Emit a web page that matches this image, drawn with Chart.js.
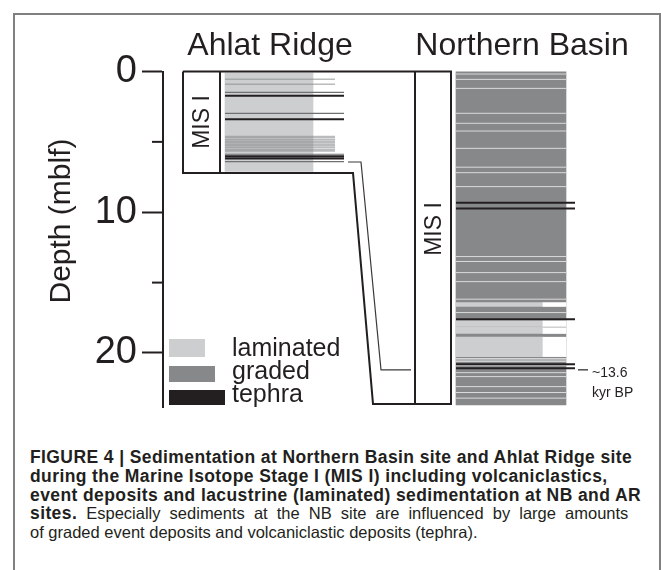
<!DOCTYPE html>
<html>
<head>
<meta charset="utf-8">
<script src="https://cdn.jsdelivr.net/npm/chart.js@4.4.0/dist/chart.umd.min.js"></script>
<style>
  html, body { margin: 0; padding: 0; background: #fff; }
  body { width: 661px; height: 570px; position: relative; overflow: hidden;
         font-family: "Liberation Sans", Arial, sans-serif; color: #231f20; }
  #frame { position: absolute; left: 13px; top: 13px; width: 648px; height: 570px;
           border: 2px solid #808080; border-bottom: none; box-sizing: border-box; }
  #chartBox { position: absolute; left: 0; top: 0; width: 661px; height: 440px; }
  #caption { position: absolute; left: 30px; top: 448px; line-height: 18.8px; white-space: nowrap; }
  #caption div { height: 18.8px; }
  #caption b { font-size: 17.5px; letter-spacing: 0.4px; }
  #caption span { font-size: 16.5px; }
  #caption .wide span { word-spacing: 4.5px; }
</style>
</head>
<body>
<div id="frame"></div>
<div id="chartBox"><canvas id="chartCores" width="661" height="440"></canvas></div>
<div id="caption">
  <div><b>FIGURE 4 | Sedimentation at Northern Basin site and Ahlat Ridge site</b></div>
  <div><b>during the Marine Isotope Stage I (MIS I) including volcaniclastics,</b></div>
  <div><b>event deposits and lacustrine (laminated) sedimentation at NB and AR</b></div>
  <div class="wide"><b>sites.</b><span> Especially sediments at the NB site are influenced by large amounts</span></div>
  <div><span>of graded event deposits and volcaniclastic deposits (tephra).</span></div>
</div>

<script>
// depths in m below lake floor (mblf)
const sites = ['Ahlat Ridge', 'Northern Basin'];
const depthTicks = [0, 5, 10, 15, 20];
const depthLabels = ['0', '', '10', '', '20'];
const stageLabel = 'MIS I';
const arBase = 7.21;
const nbBase = 23.62;
const arLaminated = [[0.1, 7.1]];
const arFaint = [0.55, 0.91, 4.62, 4.72, 4.85, 4.97, 5.08, 5.2, 5.3, 5.42, 5.55, 5.65];
const arThin = [1.48, 2.97, 5.88, 6.40];
const arTephra = [1.72, 3.40, 6.02, 6.19];
const nbGraded = [[0.03, 23.69]];
const nbLaminated = [[16.42, 16.70], [17.70, 18.12], [18.22, 18.62], [18.88, 20.26]];
const nbLight = [0.18, 0.56, 1.2, 2.97, 3.68, 4.23, 5.46, 6.8, 7.19, 8.18, 13.15, 13.5, 14.29,
                 14.93, 16.18, 17.13, 18.17, 20.4, 20.5, 20.6, 20.9, 21.4, 21.68, 22.39, 22.81, 23.21];
const nbTephra = [9.32, 9.74, 17.6, 20.8, 21.08];
const tieDepths = [6.43, 21.2];   // AR tephra -> NB tephra
const tieAge = ['~13.6', 'kyr BP'];
const legendNames = ['laminated', 'graded', 'tephra'];

const INK = '#231f20';
const LAM = '#cdced0';
const GRA = '#87888a';

// horizontal layout of the schematic (x units = canvas px)
const COL = {
  arMisL: 183, arMisR: 220, arLamL: 225, arLamR: 313, arFaintR: 335, arLineR: 344,
  arStep: 353, nbStep: 373, nbMisL: 415, nbMisR: 451,
  nbL: 456, nbLamR: 543, nbR: 566, nbTephraR: 575,
  tieA: 348, tieB: 361, tieC: 381, tieD: 411
};

function hLines(depths, x0, x1) {
  const pts = [];
  depths.forEach(d => { pts.push({x: x0, y: d}, {x: x1, y: d}, {x: x1, y: null}); });
  return pts;
}
function block(ranges, x0, x1) {
  return ranges.map(r => ({x: (x0 + x1) / 2, y: r}));
}
const lineDs = (data, color, width, order) => ({
  type: 'line', data, borderColor: color, borderWidth: width, pointRadius: 0,
  fill: false, tension: 0, spanGaps: false, clip: false, order
});
const barDs = (data, color, x0, x1, order) => ({
  type: 'bar', data, backgroundColor: color, borderWidth: 0,
  barThickness: x1 - x0, grouped: false, clip: false, order
});

const decor = {
  id: 'decor',
  afterDraw(chart) {
    const {ctx, chartArea, scales: {y}} = chart;
    ctx.save();
    ctx.fillStyle = INK;
    ctx.strokeStyle = INK;

    // minor depth ticks
    ctx.lineWidth = 2;
    depthTicks.forEach((v, i) => {
      if (depthLabels[i]) return;
      const py = y.getPixelForValue(v);
      ctx.beginPath();
      ctx.moveTo(chartArea.left - 11, py);
      ctx.lineTo(chartArea.left, py);
      ctx.stroke();
    });

    // site headings
    ctx.font = '32px "Liberation Sans"';
    ctx.textAlign = 'center';
    ctx.textBaseline = 'alphabetic';
    ctx.fillText(sites[0], 270, 55);
    ctx.fillText(sites[1], 522, 55);

    // axis title
    ctx.save();
    ctx.translate(70, 221);
    ctx.rotate(-Math.PI / 2);
    ctx.font = '30px "Liberation Sans"';
    ctx.fillText('Depth (mblf)', 0, 0);
    ctx.restore();

    // stage labels
    ctx.font = '23px "Liberation Sans"';
    ctx.textBaseline = 'middle';
    [[202, 122], [434, 229]].forEach(([px, py]) => {
      ctx.save();
      ctx.translate(px, py);
      ctx.rotate(-Math.PI / 2);
      ctx.fillText(stageLabel, 0, 1);
      ctx.restore();
    });

    // legend
    const sw = [[LAM, 339, 18, 36], [GRA, 366, 16, 46], [INK, 390, 15, 56]];
    sw.forEach(([c, top, h, w]) => {
      ctx.fillStyle = c;
      ctx.fillRect(169, top, w, h);
    });
    ctx.fillStyle = INK;
    ctx.font = '25px "Liberation Sans"';
    ctx.textAlign = 'left';
    ctx.textBaseline = 'alphabetic';
    [356, 379, 402].forEach((b, i) => ctx.fillText(legendNames[i], 232, b));

    // age annotation at the tie point
    const ty = y.getPixelForValue(tieDepths[1]);
    ctx.lineWidth = 1.2;
    ctx.beginPath();
    ctx.moveTo(578, ty);
    ctx.lineTo(588, ty);
    ctx.stroke();
    ctx.font = '14px "Liberation Sans"';
    ctx.fillText(tieAge[0], 592, ty + 7);
    ctx.fillText(tieAge[1], 592, ty + 27);
    ctx.restore();
  }
};

new Chart(document.getElementById('chartCores'), {
  type: 'bar',
  data: {
    datasets: [
      barDs(block(arLaminated, COL.arLamL, COL.arLamR), LAM, COL.arLamL, COL.arLamR, 20),
      barDs(block(nbGraded, COL.nbL, COL.nbR), GRA, COL.nbL, COL.nbR, 20),
      barDs(block(nbLaminated, COL.nbLamR, COL.nbR), '#ffffff', COL.nbLamR, COL.nbR, 19),
      barDs(block(nbLaminated, COL.nbL, COL.nbLamR), LAM, COL.nbL, COL.nbLamR, 19),
      lineDs(hLines(arFaint, COL.arLamL, COL.arFaintR), 'rgba(140,141,143,0.6)', 1.4, 12),
      lineDs(hLines(arThin, COL.arLamL, COL.arLineR), '#6f7072', 1.2, 11),
      lineDs(hLines(nbLight, COL.nbL, COL.nbR), '#dadada', 1, 11),
      lineDs(hLines(arTephra, COL.arLamL, COL.arLineR), INK, 2, 5),
      lineDs(hLines(nbTephra, COL.nbL, COL.nbTephraR), INK, 2, 5),
      lineDs([
        {x: COL.arMisL, y: 0}, {x: COL.arMisL, y: arBase}, {x: COL.arStep, y: arBase},
        {x: COL.nbStep, y: nbBase}, {x: COL.nbMisR, y: nbBase}, {x: COL.nbMisR, y: 0},
        {x: COL.arMisL, y: 0}
      ], INK, 2, 1),
      lineDs([{x: COL.arMisR, y: 0}, {x: COL.arMisR, y: arBase}], INK, 2, 1),
      lineDs([{x: COL.nbMisL, y: 0}, {x: COL.nbMisL, y: nbBase}], INK, 2, 1),
      lineDs([
        {x: COL.tieA, y: tieDepths[0]}, {x: COL.tieB, y: tieDepths[0]},
        {x: COL.tieC, y: tieDepths[1]}, {x: COL.tieD, y: tieDepths[1]}
      ], '#3a3a3a', 1.2, 2)
    ]
  },
  options: {
    responsive: false,
    animation: false,
    events: [],
    layout: { padding: { top: 71.5, bottom: 33, left: 0, right: 0 } },
    plugins: { legend: { display: false }, tooltip: { enabled: false } },
    scales: {
      x: { type: 'linear', display: false, min: 163, max: 661, offset: false },
      y: {
        type: 'linear', position: 'left', reverse: true, min: 0, max: 23.84,
        afterFit: s => { s.width = 163; },
        afterBuildTicks: s => { s.ticks = depthTicks.map(v => ({value: v})); },
        border: { display: true, color: INK, width: 2 },
        grid: {
          display: true, drawOnChartArea: false, drawTicks: true, tickLength: 21, tickWidth: 2,
          tickColor: c => (c.tick && depthLabels[depthTicks.indexOf(c.tick.value)]) ? INK : 'rgba(0,0,0,0)'
        },
        ticks: {
          padding: 5, color: INK, font: { family: 'Liberation Sans', size: 38 },
          callback: v => depthLabels[depthTicks.indexOf(v)] || ''
        }
      }
    }
  },
  plugins: [decor]
});
</script>
</body>
</html>
